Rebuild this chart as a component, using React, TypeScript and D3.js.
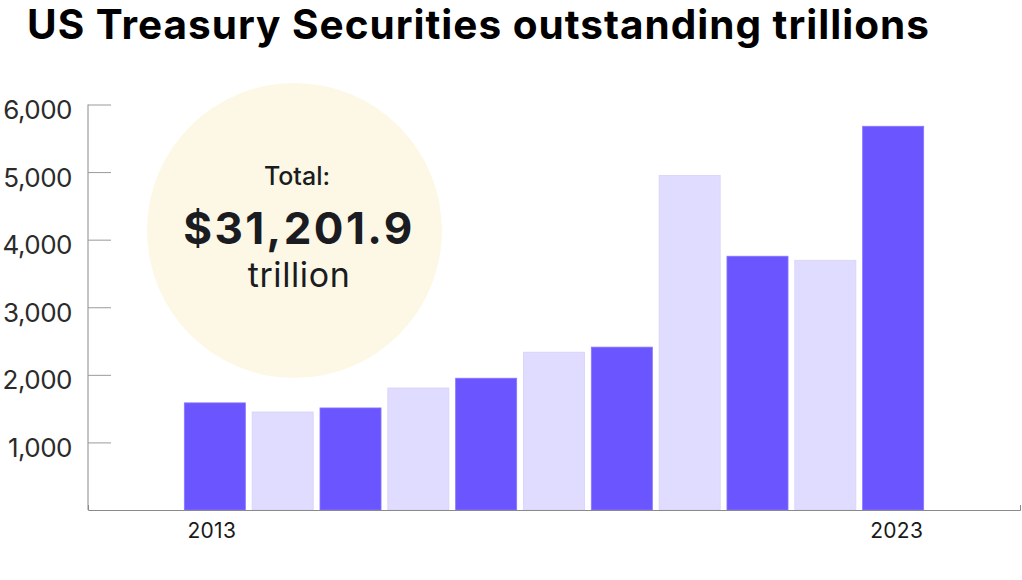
import React, { useEffect, useRef } from "react";
import * as d3 from "d3";

const years = ["2013","2014","2015","2016","2017","2018","2019","2020","2021","2022","2023"];
const values = [1585, 1450, 1510, 1805, 1950, 2335, 2410, 4950, 3755, 3695, 5678];
const yTicks = [1000, 2000, 3000, 4000, 5000, 6000];
const xLabels = ["2013", "2023"];
const title = "US Treasury Securities outstanding trillions";
const totalLabel = "Total:";
const totalValue = "$31,201.9";
const totalUnit = "trillion";

export default function App() {
  const ref = useRef<SVGSVGElement>(null);
  useEffect(() => {
    const svg = d3.select(ref.current);
    svg.selectAll("*").remove();
    const W = 1022, H = 580;
    const left = 88, right = 1020, top = 104.5, bottom = 510;
    const font = "Inter, 'Noto Sans', sans-serif";

    svg.append("rect").attr("width", W).attr("height", H).attr("fill", "#fff");

    svg.append("text").attr("x", 27).attr("y", 38.5).attr("font-family", font)
      .attr("font-weight", 700).attr("font-size", 40.5).attr("letter-spacing", 1.0)
      .attr("fill", "#000").text(title);

    const x = d3.scaleBand().domain(years).range([left, right]).paddingInner(0.1).paddingOuter(1.42);
    const y = d3.scaleLinear().domain([0, 6000]).range([bottom, top]);

    // circle
    svg.append("circle").attr("cx", 294.5).attr("cy", 230.5).attr("r", 147.5).attr("fill", "#fdf8e5");
    svg.append("text").attr("x", 297).attr("y", 185).attr("text-anchor", "middle").attr("font-family", font)
      .attr("font-weight", 500).attr("font-size", 25).attr("fill", "#1a1c22").text(totalLabel);
    svg.append("text").attr("x", 299).attr("y", 243.5).attr("text-anchor", "middle").attr("font-family", font)
      .attr("font-weight", 700).attr("font-size", 44).attr("letter-spacing", 2.4)
      .attr("fill", "#1a1c22").text(totalValue);
    svg.append("text").attr("x", 299).attr("y", 287).attr("text-anchor", "middle").attr("font-family", font)
      .attr("font-weight", 400).attr("font-size", 34).attr("letter-spacing", 0.6)
      .attr("fill", "#1a1c22").text(totalUnit);

    // y axis
    const yAxis = d3.axisLeft(y).tickValues(yTicks).tickSize(-23).tickSizeOuter(0)
      .tickFormat((d) => d3.format(",")(d as number));
    const gy = svg.append("g").attr("transform", `translate(${left},0)`).call(yAxis);
    gy.select(".domain").attr("stroke", "#8a8a8a").attr("d", `M0,${top}V${bottom}`);
    gy.selectAll(".tick line").attr("stroke", "#9a9a9a");
    gy.selectAll(".tick text").attr("x", -16).attr("dy", "0.54em").attr("font-family", font)
      .attr("font-size", 26).attr("font-weight", 400).attr("letter-spacing", -0.5).attr("fill", "#2b2b2b");

    // bars
    svg.append("g").selectAll("rect").data(values).join("rect")
      .attr("x", (_, i) => x(years[i])!)
      .attr("y", (d) => y(d))
      .attr("width", x.bandwidth())
      .attr("height", (d) => bottom - y(d))
      .attr("fill", (_, i) => (i % 2 === 0 ? "#6a55ff" : "#e0dcff"))
      .attr("stroke", (_, i) => (i % 2 === 0 ? "#8877ff" : "#d6d2f8"))
      .attr("stroke-width", 0.8);

    // x axis
    const xAxis = d3.axisBottom(x).tickValues(xLabels).tickSize(0).tickSizeOuter(-5);
    const gx = svg.append("g").attr("transform", `translate(0,${bottom})`).call(xAxis);
    gx.select(".domain").attr("stroke", "#8a8a8a");
    gx.selectAll(".tick text").attr("dy", "0").attr("y", 28)
      .attr("x", (_, i) => (i === 0 ? -3 : 3.5)).attr("font-family", font)
      .attr("font-size", 21).attr("letter-spacing", 0.3).attr("fill", "#1a1a1a");
  }, []);
  return <svg ref={ref} width={1022} height={580} style={{ position: "absolute", left: 0, top: 0 }} />;
}
